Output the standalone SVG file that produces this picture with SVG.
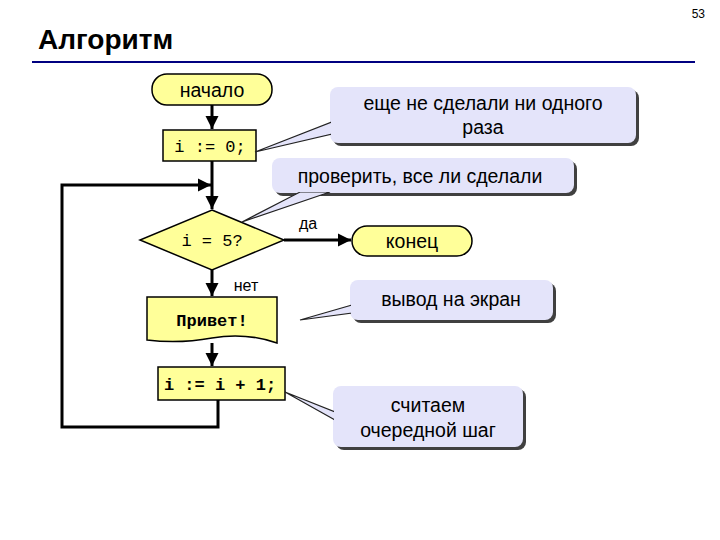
<svg xmlns="http://www.w3.org/2000/svg" width="720" height="540" viewBox="0 0 720 540">
<style>
.t{font-family:"Liberation Sans",Arial,sans-serif;font-size:19.5px;fill:#000;text-anchor:middle}
.m{font-family:"Liberation Mono","Courier New",monospace;font-size:17px;font-weight:bold;fill:#000;text-anchor:middle}
.n{fill:#ffff99;stroke:#000;stroke-width:1.5}
.c{fill:#e4e4fa;stroke:none}
.sh{fill:#404040}
.w{fill:#e4e4fa;stroke:#222;stroke-width:1.2}
.l{fill:none;stroke:#000;stroke-width:3}
</style>
<defs>
<marker id="a" viewBox="0 0 10 10" refX="10" refY="5" markerWidth="4.5" markerHeight="4.5" orient="auto"><path d="M0,0L10,5L0,10z" fill="#000"/></marker>
</defs>
<rect width="720" height="540" fill="#fff"/>
<text x="705" y="18" style="font-family:'Liberation Sans',Arial,sans-serif;font-size:12px" text-anchor="end">53</text>
<text x="38" y="49" style="font-family:'Liberation Sans',Arial,sans-serif;font-size:28px;font-weight:bold">Алгоритм</text>
<line x1="32" y1="62" x2="695" y2="62" stroke="#000080" stroke-width="2"/>
<g id="connectors">
<line class="l" x1="212" y1="105" x2="212" y2="129" marker-end="url(#a)"/>
<line class="l" x1="212" y1="161" x2="212" y2="209" marker-end="url(#a)"/>
<polyline class="l" points="218,400 218,427 62,427 62,185 211,185" marker-end="url(#a)"/>
<line class="l" x1="284" y1="240" x2="351" y2="240" marker-end="url(#a)"/>
<line class="l" x1="212" y1="270" x2="212" y2="296" marker-end="url(#a)"/>
<line class="l" x1="212" y1="343" x2="212" y2="366" marker-end="url(#a)"/>
<text x="308" y="229" class="t" style="font-size:16px">да</text>
<text x="246" y="291" class="t" style="font-size:16px">нет</text>
</g>
<g id="start"><rect class="n" x="152" y="74" width="120" height="31" rx="15"/><text x="212" y="97" class="t">начало</text></g>
<g id="init"><rect class="n" x="163" y="130" width="93" height="31"/><text x="210" y="152" class="m" style="font-weight:normal">i := 0;</text></g>
<g id="cond"><polygon class="n" points="212,210 284,240 212,270 140,240"/><text x="212" y="246" class="m" style="font-weight:normal">i = 5?</text></g>
<g id="end"><rect class="n" x="352" y="226" width="120" height="30" rx="15"/><text x="412" y="248" class="t">конец</text></g>
<g id="print"><path class="n" d="M147,297H277V343Q245,332 212,338T147,340Z"/><text x="212" y="326" class="m">Привет!</text></g>
<g id="inc"><rect class="n" x="158" y="367" width="127" height="33"/><text x="220" y="390" class="m">i := i + 1;</text></g>
<g id="note1">
<rect class="sh" x="333" y="90" width="306" height="56" rx="8"/>
<rect class="c" x="330" y="87" width="306" height="56" rx="8"/>
<polygon class="w" points="255,152 332,122 332,134"/>
<rect class="c" x="331" y="115" width="8" height="24"/>
<text x="483" y="110" class="t">еще не сделали ни одного</text>
<text x="483" y="134" class="t">раза</text>
</g>
<g id="note2">
<rect class="sh" x="275" y="161" width="302" height="35" rx="8"/>
<rect class="c" x="272" y="158" width="302" height="35" rx="8"/>
<polygon class="w" points="242,222 300,192 330,192"/>
<rect class="c" x="298" y="186" width="34" height="6"/>
<text x="420" y="183" class="t">проверить, все ли сделали</text>
</g>
<g id="note3">
<rect class="sh" x="353" y="283" width="203" height="40" rx="8"/>
<rect class="c" x="350" y="280" width="203" height="40" rx="8"/>
<polygon class="w" points="300,320 352,305 352,313"/>
<rect class="c" x="351" y="302" width="6" height="14"/>
<text x="451" y="306" class="t">вывод на экран</text>
</g>
<g id="note4">
<rect class="sh" x="336" y="389" width="190" height="61" rx="8"/>
<rect class="c" x="333" y="386" width="190" height="61" rx="8"/>
<polygon class="w" points="285,392 335,412 335,420"/>
<rect class="c" x="334" y="408" width="6" height="15"/>
<text x="428" y="412" class="t">считаем</text>
<text x="428" y="437" class="t">очередной шаг</text>
</g>
</svg>
